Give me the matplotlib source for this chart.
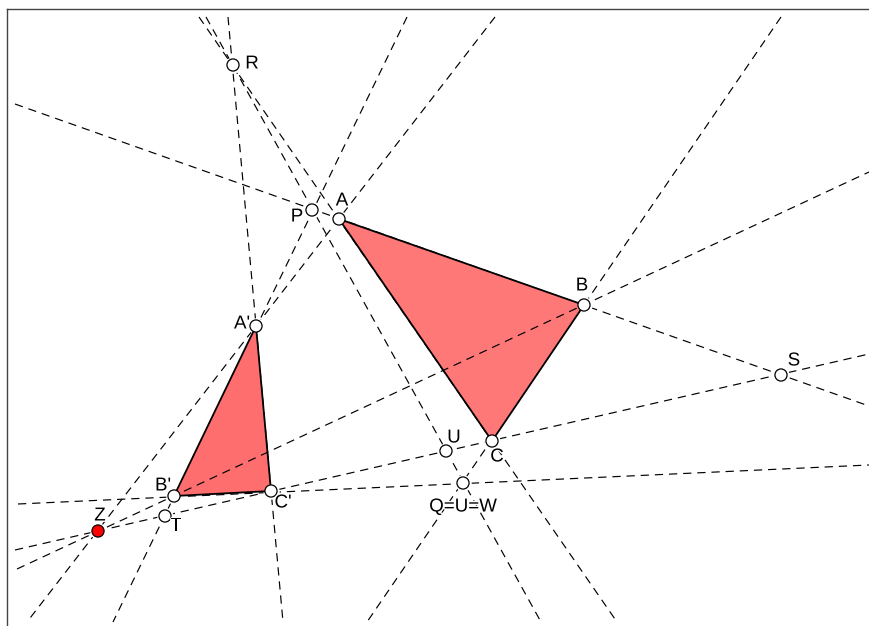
import numpy as np
import matplotlib
matplotlib.use("Agg")
import matplotlib.pyplot as plt
import matplotlib.patheffects as pe

plt.rcParams['font.family'] = ['Liberation Sans', 'DejaVu Sans']

# point positions (pixels, y down)
point_names = ["A", "B", "C", "A'", "B'", "C'", "P", "R", "S", "T", "U", "Q", "Z"]
point_x = [339, 584, 492, 256, 174, 271, 312, 233, 781, 165, 446, 463, 98]
point_y = [219, 305, 441, 326, 496, 491, 210, 65, 375, 516, 451, 483, 531]

# where each dashed line starts and stops
line_x0 = [15, 199, 781, 407, 228, 18, 495, 17, 15, 206]
line_y0 = [104, 17, 17, 17, 17, 504, 17, 569, 550, 17]
line_x1 = [869, 617, 367, 113, 283, 869, 27, 869, 869, 541]
line_y1 = [406, 622, 622, 622, 622, 465, 622, 172, 354, 622]
crossing_line = 7  # the BB' line, it also shows inside both triangles

tri1_x = [339, 584, 492]
tri1_y = [219, 305, 441]
tri2_x = [256, 174, 271]
tri2_y = [326, 496, 491]

# label text and its centre
label_text = ["A", "B", "C", "A'", "B'", "C'", "P", "R", "S", "T", "U", "Q=U=W", "Z"]
label_x = [342, 582, 497, 242, 163, 283, 297, 252, 794, 176, 454, 463, 100]
label_y = [201, 286, 457, 324, 486, 503, 217, 64, 361, 526, 438, 507, 516]

fig = plt.figure(figsize=(8.69, 6.26), dpi=100)
ax = fig.add_axes([7 / 869, 0, 862 / 869, 617 / 626])
ax.set_xlim(7, 869)
ax.set_ylim(626, 9)
ax.set_xticks([])
ax.set_yticks([])
for side in ["right", "bottom"]:
    ax.spines[side].set_visible(False)
for side in ["left", "top"]:
    ax.spines[side].set_color("#444444")
    ax.spines[side].set_linewidth(1.0)

dash_style = dict(color="black", lw=0.85, dashes=(7, 5))

for i in range(len(line_x0)):
    ax.plot([line_x0[i], line_x1[i]], [line_y0[i], line_y1[i]], zorder=1, **dash_style)

# white rings break the lines around each point
ax.scatter(point_x, point_y, s=140, color="white", lw=0, zorder=2)

big = ax.fill(tri1_x, tri1_y, facecolor="#ff7878", edgecolor="black", lw=1.3, zorder=3)[0]
small = ax.fill(tri2_x, tri2_y, facecolor="#ff6e6e", edgecolor="black", lw=1.3, zorder=3)[0]

# same line again on top, only seen inside the triangles
for tri in [big, small]:
    over = ax.plot([line_x0[crossing_line], line_x1[crossing_line]],
                   [line_y0[crossing_line], line_y1[crossing_line]], zorder=4, **dash_style)[0]
    over.set_clip_path(tri)

colors = ["red" if n == "Z" else "white" for n in point_names]
ax.scatter(point_x, point_y, s=76, c=colors, edgecolors="black", lw=0.9, zorder=5)

for i in range(len(label_text)):
    ax.text(label_x[i], label_y[i], label_text[i], fontsize=13.5, ha="center", va="center",
            color="black", zorder=6,
            path_effects=[pe.withStroke(linewidth=2, foreground="white")])

fig.savefig("out.png", dpi=100)
